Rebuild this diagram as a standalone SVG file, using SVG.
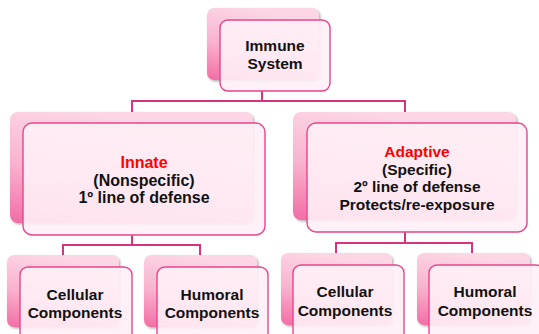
<svg xmlns="http://www.w3.org/2000/svg" width="539" height="334" viewBox="0 0 539 334">
<defs>
<linearGradient id="pg" x1="0.3" y1="0" x2="0" y2="1">
<stop offset="0" stop-color="#fcd6e5"/>
<stop offset="0.5" stop-color="#f9b3cf"/>
<stop offset="1" stop-color="#f26ca4"/>
</linearGradient>
<filter id="sh" x="-10%" y="-10%" width="130%" height="130%">
<feDropShadow dx="1.5" dy="1.5" stdDeviation="1.2" flood-color="#555" flood-opacity="0.45"/>
</filter>
</defs>
<style>
.back{fill:url(#pg);filter:url(#sh);}
.front{fill:#fff0f6;fill-opacity:0.9;stroke:#e8458b;stroke-width:1.4;}
.conn{fill:none;stroke:#d8347c;stroke-width:2;}
text{font-family:"Liberation Sans",Arial,sans-serif;font-weight:bold;font-size:15.5px;fill:#111;text-anchor:middle;}
.big{font-size:16px;}
.red{fill:#ff0000;}
</style>
<g id="connectors">
<path class="conn" d="M262 91 V101 M132 112 V101 H405 V112"/>
<path class="conn" d="M132 235 V245 M63 255 V245 H200 V255"/>
<path class="conn" d="M405 232 V243 M336 253 V243 H472 V253"/>
</g>
<g id="immune">
<rect class="back" x="207" y="8" width="112" height="72" rx="7"/>
<rect class="front" x="220" y="20" width="110" height="71" rx="8"/>
<text x="275" y="51">Immune</text>
<text x="275" y="69">System</text>
</g>
<g id="innate">
<rect class="back" x="10" y="112" width="243" height="111" rx="8"/>
<rect class="front" x="23" y="123" width="242" height="112" rx="9"/>
<text x="144" y="168" class="big red">Innate</text>
<text x="144" y="186" class="big">(Nonspecific)</text>
<text x="144" y="203" class="big">1º line of defense</text>
</g>
<g id="adaptive">
<rect class="back" x="293" y="112" width="223" height="108" rx="8"/>
<rect class="front" x="307" y="123" width="220" height="109" rx="9"/>
<text x="417" y="157" class="red">Adaptive</text>
<text x="417" y="175">(Specific)</text>
<text x="417" y="192">2º line of defense</text>
<text x="417" y="210">Protects/re-exposure</text>
</g>
<g id="innate-cellular">
<rect class="back" x="7" y="255" width="112" height="72" rx="7"/>
<rect class="front" x="20" y="267" width="112" height="75" rx="8"/>
<text x="75" y="300">Cellular</text>
<text x="75" y="318">Components</text>
</g>
<g id="innate-humoral">
<rect class="back" x="144" y="255" width="113" height="72" rx="7"/>
<rect class="front" x="157" y="267" width="111" height="75" rx="8"/>
<text x="212" y="300">Humoral</text>
<text x="212" y="318">Components</text>
</g>
<g id="adaptive-cellular">
<rect class="back" x="281" y="253" width="111" height="72" rx="7"/>
<rect class="front" x="293" y="265" width="111" height="77" rx="8"/>
<text x="345" y="297">Cellular</text>
<text x="345" y="316">Components</text>
</g>
<g id="adaptive-humoral">
<rect class="back" x="417" y="253" width="113" height="72" rx="7"/>
<rect class="front" x="429" y="265" width="115" height="77" rx="8"/>
<text x="485" y="297">Humoral</text>
<text x="485" y="316">Components</text>
</g>
</svg>
